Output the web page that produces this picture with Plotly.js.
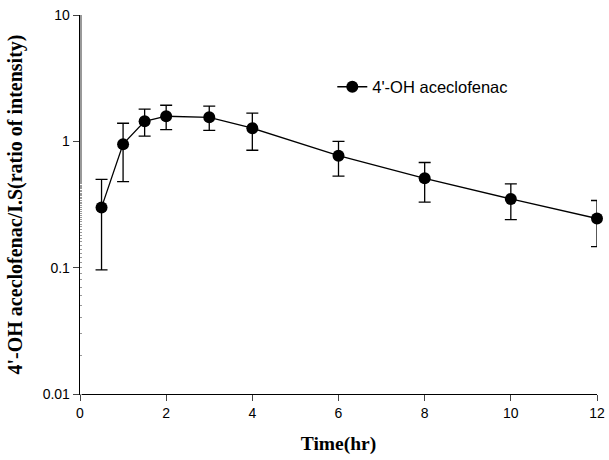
<!DOCTYPE html>
<html><head><meta charset="utf-8">
<script src="https://cdn.plot.ly/plotly-3.0.1.min.js"></script>
<style>body{margin:0;background:#fff}#c{width:609px;height:460px}</style>
</head><body><div id="c"></div>
<script>
const timeHr = [0.5, 1, 1.5, 2, 3, 4, 6, 8, 10, 12];
const ratio = [0.30, 0.95, 1.44, 1.58, 1.55, 1.27, 0.77, 0.51, 0.35, 0.245];
const errPlus = [0.20, 0.44, 0.36, 0.35, 0.35, 0.40, 0.23, 0.17, 0.11, 0.095];
const errMinus = [0.204, 0.47, 0.34, 0.34, 0.33, 0.42, 0.24, 0.18, 0.11, 0.098];
const yTickVals = [0.01, 0.1, 1, 10];
const yTickText = ['0.01', '0.1', '1', '10'];
const xTickVals = [0, 2, 4, 6, 8, 10, 12];

Plotly.newPlot('c', [{
  x: timeHr, y: ratio, type: 'scatter', mode: 'lines+markers',
  name: "4'-OH aceclofenac",
  cliponaxis: false,
  line: {color: '#000', width: 1.3},
  marker: {color: '#000', size: 12},
  error_y: {type: 'data', symmetric: false, array: errPlus, arrayminus: errMinus,
            color: '#000', thickness: 1.3, width: 6}
}], {
  width: 609, height: 460,
  margin: {l: 80, r: 12, t: 15, b: 66},
  paper_bgcolor: '#fff', plot_bgcolor: '#fff',
  font: {family: 'Liberation Sans, Arial', color: '#000', size: 14},
  showlegend: true,
  legend: {x: 0.488, y: 0.81, xanchor: 'left', yanchor: 'middle',
           font: {size: 16.5, family: 'Liberation Sans, Arial'}, bgcolor: 'rgba(0,0,0,0)'},
  xaxis: {range: [0, 12], tickvals: xTickVals, ticks: 'outside', ticklen: 6,
          showline: true, linecolor: '#000', linewidth: 1.3, showgrid: false, zeroline: false,
          tickfont: {size: 14},
          title: {text: 'Time(hr)', font: {family: 'Liberation Serif, Times New Roman', size: 19.5, weight: 'bold'}, standoff: 16}},
  yaxis: {type: 'log', range: [-2, 1], tickvals: yTickVals, ticktext: yTickText,
          ticks: 'outside', ticklen: 6, showline: true, linecolor: '#000', linewidth: 1.3,
          showgrid: false, zeroline: false, tickfont: {size: 14},
          minor: {ticks: 'inside', ticklen: 2, tickcolor: '#999', showgrid: false},
          title: {text: "4'-OH aceclofenac/I.S(ratio of intensity)", font: {family: 'Liberation Serif, Times New Roman', size: 20, weight: 'bold'}, standoff: 14}}
}, {displayModeBar: false, staticPlot: true});
</script></body></html>
